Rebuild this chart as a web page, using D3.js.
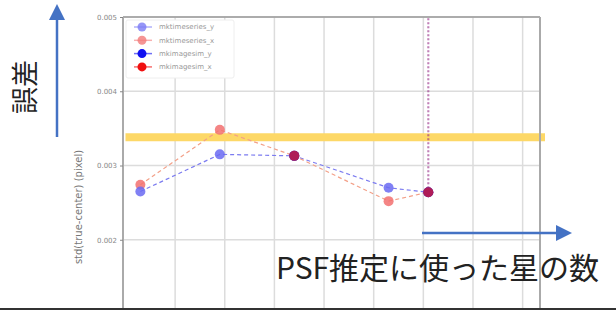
<!DOCTYPE html>
<html>
<head>
<meta charset="utf-8">
<script src="https://cdn.jsdelivr.net/npm/d3@7"></script>
<style>
  body { margin: 0; background: #fff; }
  svg { display: block; font-family: "Noto Sans CJK JP", "Noto Sans", sans-serif; }
</style>
</head>
<body>
<svg id="chart" width="616" height="310"></svg>
<script>
// data (x in grid units, y in pixels std)
var xVals = [0.3, 1.9, 3.4, 5.3, 6.1];
var tsY = [0.00265, 0.00315, 0.00313, 0.00270, 0.00264];
var tsX = [0.00274, 0.00348, 0.00313, 0.00252, 0.00264];
// mkimagesim: only two points visible, then a jump far above the top
var simX = [3.4, 6.1, 6.1];
var simY = [0.00313, 0.00264, 0.02];
var simGap = [true, false, false]; // first point is on its own
var yTicks = [0.002, 0.003, 0.004, 0.005];
var xGrid = [1, 2, 3, 4, 5, 6, 7, 8];
var threshold = 0.00338;
var legendNames = ["mktimeseries_y", "mktimeseries_x", "mkimagesim_y", "mkimagesim_x"];
var legendColors = ["#7b7bf5", "#f27b7b", "#1010f0", "#f01010"];

var svg = d3.select("svg#chart"),
    margin = {top: 17, left: 123, right: 76, bottom: -4},
    width = +svg.attr("width") - margin.left - margin.right,
    height = +svg.attr("height") - margin.top - margin.bottom;

var x = d3.scaleLinear().domain([-0.05, 8.35]).range([0, width]);
var y = d3.scaleLinear().domain([0.001, 0.005]).range([height, 0]);

svg.append("defs").append("clipPath").attr("id", "clip")
  .append("rect").attr("width", width).attr("height", height);

var g = svg.append("g")
    .attr("transform", "translate(" + margin.left + "," + margin.top + ")");

// grid
g.append("g").selectAll("line").data(xGrid).enter().append("line")
    .attr("x1", function(d) { return x(d); }).attr("x2", function(d) { return x(d); })
    .attr("y1", 0).attr("y2", height)
    .attr("stroke", "#dcdcdc").attr("stroke-width", 1.5);
g.append("g").selectAll("line").data(yTicks).enter().append("line")
    .attr("x1", 0).attr("x2", width)
    .attr("y1", function(d) { return y(d); }).attr("y2", function(d) { return y(d); })
    .attr("stroke", "#dcdcdc").attr("stroke-width", 1.5);

// yellow band
g.append("line")
    .attr("x1", x(0)).attr("x2", width + 5)
    .attr("y1", y(threshold)).attr("y2", y(threshold))
    .attr("stroke", "#fdd867").attr("stroke-width", 8);

// frame
g.append("line").attr("x1", 0).attr("x2", width).attr("y1", 0).attr("y2", 0)
    .attr("stroke", "#999").attr("stroke-width", 1.5);
g.append("line").attr("x1", 0).attr("x2", 0).attr("y1", 0).attr("y2", height)
    .attr("stroke", "#aaa").attr("stroke-width", 2);
g.append("line").attr("x1", width).attr("x2", width).attr("y1", 0).attr("y2", height)
    .attr("stroke", "#aaa").attr("stroke-width", 2);

// y axis
var yAxis = g.append("g")
    .call(d3.axisLeft(y).tickValues(yTicks).tickSize(3).tickFormat(d3.format(".3f")));
yAxis.select(".domain").remove();
yAxis.selectAll("line").attr("stroke", "#888");
yAxis.selectAll("text").attr("fill", "#888").style("font-size", "7px")
    .style("font-family", "DejaVu Sans");

g.append("text")
    .attr("transform", "translate(-41," + (207 - margin.top) + ") rotate(-90)")
    .attr("text-anchor", "middle")
    .attr("fill", "#777")
    .style("font-size", "10px")
    .style("font-family", "DejaVu Sans")
    .text("std(true-center) (pixel)");

var plot = g.append("g").attr("clip-path", "url(#clip)");

function series(vals) {
  return xVals.map(function(d, i) { return {x: d, v: vals[i]}; });
}
var line = d3.line()
    .x(function(d) { return x(d.x); })
    .y(function(d) { return y(d.v); });

// mkimagesim: vertical dotted jump
var sim = simX.map(function(d, i) { return {x: d, v: simY[i], gap: simGap[i]}; });
var simLine = d3.line().defined(function(d) { return !d.gap; })
    .x(function(d) { return x(d.x); }).y(function(d) { return y(d.v); });
plot.append("path").datum(sim).attr("d", simLine)
    .attr("fill", "none").attr("stroke", "#3030f0").attr("stroke-opacity", 0.4)
    .attr("stroke-width", 2).attr("stroke-dasharray", "2,2");
plot.append("path").datum(sim).attr("d", simLine)
    .attr("fill", "none").attr("stroke", "#f03030").attr("stroke-opacity", 0.35)
    .attr("stroke-width", 2).attr("stroke-dasharray", "2,2");

// mktimeseries lines
plot.append("path").datum(series(tsY)).attr("d", line)
    .attr("fill", "none").attr("stroke", "#7b7bf0").attr("stroke-width", 1.2)
    .attr("stroke-dasharray", "4,3");
plot.append("path").datum(series(tsX)).attr("d", line)
    .attr("fill", "none").attr("stroke", "#f3a088").attr("stroke-width", 1.2)
    .attr("stroke-dasharray", "4,3");

plot.append("g").selectAll("circle").data(series(tsX)).enter().append("circle")
    .attr("cx", function(d) { return x(d.x); }).attr("cy", function(d) { return y(d.v); })
    .attr("r", 5).attr("fill", "#f27070").attr("fill-opacity", 0.85);
plot.append("g").selectAll("circle").data(series(tsY)).enter().append("circle")
    .attr("cx", function(d) { return x(d.x); }).attr("cy", function(d) { return y(d.v); })
    .attr("r", 5).attr("fill", "#6a6af2").attr("fill-opacity", 0.85);

// mkimagesim markers (blue under red -> crimson)
var simPts = sim.filter(function(d) { return d.v < 0.005; });
plot.append("g").selectAll("circle").data(simPts).enter().append("circle")
    .attr("cx", function(d) { return x(d.x); }).attr("cy", function(d) { return y(d.v); })
    .attr("r", 5).attr("fill", "#3030d0");
plot.append("g").selectAll("circle").data(simPts).enter().append("circle")
    .attr("cx", function(d) { return x(d.x); }).attr("cy", function(d) { return y(d.v); })
    .attr("r", 5).attr("fill", "#d01838").attr("fill-opacity", 0.8);

// legend
var leg = g.append("g").attr("transform", "translate(3,3)");
leg.append("rect").attr("width", 108).attr("height", 58).attr("rx", 2)
    .attr("fill", "#fff").attr("stroke", "#eee");
legendNames.forEach(function(name, i) {
  var row = leg.append("g").attr("transform", "translate(0," + (7 + i * 13.3) + ")");
  row.append("line").attr("x1", 8).attr("x2", 26).attr("y1", 0).attr("y2", 0)
      .attr("stroke", legendColors[i]).attr("stroke-width", 1.5).attr("stroke-opacity", 0.6);
  row.append("circle").attr("cx", 16).attr("cy", 0).attr("r", 4.5)
      .attr("fill", legendColors[i]).attr("fill-opacity", i < 2 ? 0.8 : 1);
  row.append("text").attr("x", 33).attr("y", 0).attr("dy", "0.35em")
      .attr("fill", "#999").style("font-size", "7px").style("font-family", "DejaVu Sans")
      .text(name);
});

// annotation arrows
var blue = "#4472c4";
svg.append("line").attr("x1", 57).attr("x2", 57).attr("y1", 137).attr("y2", 18)
    .attr("stroke", blue).attr("stroke-width", 2.5);
svg.append("path").attr("d", "M49,20 L57,4 L65,20 Z").attr("fill", blue);
svg.append("line").attr("x1", 422).attr("x2", 558).attr("y1", 233).attr("y2", 233)
    .attr("stroke", blue).attr("stroke-width", 2.5);
svg.append("path").attr("d", "M556,225 L572,233 L556,241 Z").attr("fill", blue);

svg.append("text")
    .attr("transform", "translate(35,87) rotate(-90)")
    .attr("text-anchor", "middle")
    .attr("fill", "#222")
    .style("font-size", "27px")
    .text("誤差");

svg.append("text")
    .attr("x", 276).attr("y", 279)
    .attr("fill", "#222")
    .style("font-size", "30px")
    .text("PSF推定に使った星の数");

// bottom border
svg.append("line").attr("x1", 0).attr("x2", 616).attr("y1", 309).attr("y2", 309)
    .attr("stroke", "#333").attr("stroke-width", 2);
</script>
</body>
</html>
